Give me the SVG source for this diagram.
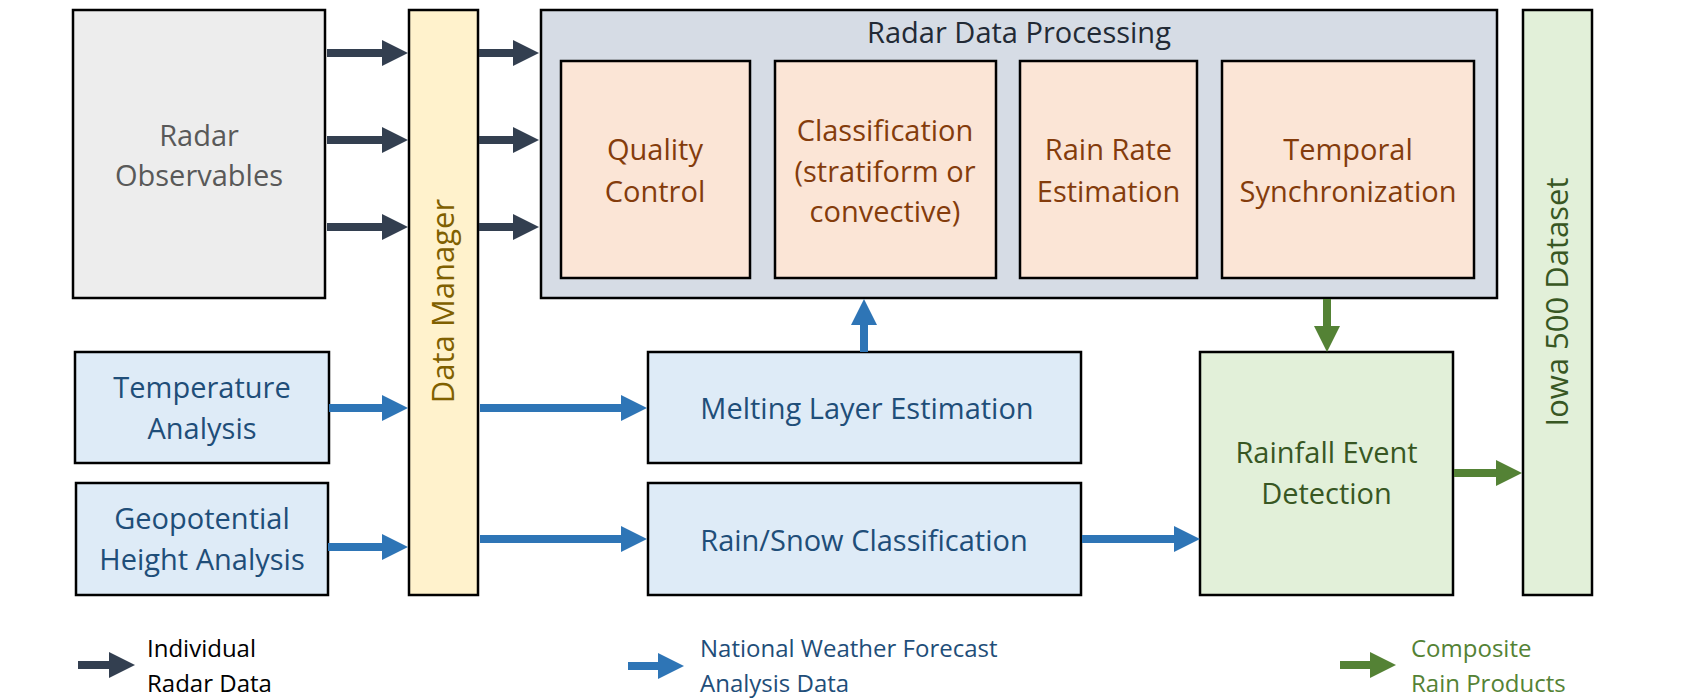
<svg xmlns="http://www.w3.org/2000/svg" width="1700" height="700" viewBox="0 0 1700 700">
<defs>
<style>
text{font-family:"Open Sans","Noto Sans","Liberation Sans",sans-serif;}
.box{stroke:#000;stroke-width:2.5;}
.t{font-size:29px;text-anchor:middle;}
.v{font-size:31px;text-anchor:middle;}
.lg{font-size:24px;}
.dk{stroke:#333F50;stroke-width:8;fill:none;}
.bl{stroke:#2E75B6;stroke-width:8;fill:none;}
.gr{stroke:#548235;stroke-width:8;fill:none;}
</style>
<marker id="hd" markerUnits="userSpaceOnUse" markerWidth="26" markerHeight="26" viewBox="0 0 26 26" refX="1" refY="13" orient="auto"><path d="M0,0 L26,13 L0,26 z" fill="#333F50"/></marker>
<marker id="hb" markerUnits="userSpaceOnUse" markerWidth="26" markerHeight="26" viewBox="0 0 26 26" refX="1" refY="13" orient="auto"><path d="M0,0 L26,13 L0,26 z" fill="#2E75B6"/></marker>
<marker id="hg" markerUnits="userSpaceOnUse" markerWidth="26" markerHeight="26" viewBox="0 0 26 26" refX="1" refY="13" orient="auto"><path d="M0,0 L26,13 L0,26 z" fill="#548235"/></marker>
</defs>
<rect width="1700" height="700" fill="#fff"/>

<g id="radar-observables">
<rect class="box" x="73" y="10" width="252" height="288" fill="#EDEDED"/>
<text class="t" x="199" y="146" fill="#595959">Radar</text>
<text class="t" x="199" y="186" fill="#595959">Observables</text>
</g>

<g id="data-manager">
<rect class="box" x="409" y="10" width="69" height="585" fill="#FFF2CC"/>
<text class="v" transform="translate(454,301) rotate(-90)" fill="#7F6000">Data Manager</text>
</g>

<g id="radar-data-processing">
<rect class="box" x="541" y="10" width="956" height="288" fill="#D6DCE5"/>
<text class="t" x="1019" y="43" fill="#222A35">Radar Data Processing</text>
</g>

<g id="quality-control">
<rect class="box" x="561" y="61" width="189" height="217" fill="#FBE5D6"/>
<text class="t" x="655" y="160" fill="#843C0C">Quality</text>
<text class="t" x="655" y="201.5" fill="#843C0C">Control</text>
</g>

<g id="classification">
<rect class="box" x="775" y="61" width="221" height="217" fill="#FBE5D6"/>
<text class="t" x="885" y="141" fill="#843C0C">Classification</text>
<text class="t" x="885" y="181.5" fill="#843C0C">(stratiform or</text>
<text class="t" x="885" y="221.5" fill="#843C0C">convective)</text>
</g>

<g id="rain-rate-estimation">
<rect class="box" x="1020" y="61" width="177" height="217" fill="#FBE5D6"/>
<text class="t" x="1108.5" y="160" fill="#843C0C">Rain Rate</text>
<text class="t" x="1108.5" y="201.5" fill="#843C0C">Estimation</text>
</g>

<g id="temporal-synchronization">
<rect class="box" x="1222" y="61" width="252" height="217" fill="#FBE5D6"/>
<text class="t" x="1348" y="160" fill="#843C0C">Temporal</text>
<text class="t" x="1348" y="201.5" fill="#843C0C">Synchronization</text>
</g>

<g id="iowa-500-dataset">
<rect class="box" x="1523" y="10" width="69" height="585" fill="#E2F0D9"/>
<text class="v" transform="translate(1568,302) rotate(-90)" fill="#385723">Iowa 500 Dataset</text>
</g>

<g id="temperature-analysis">
<rect class="box" x="75" y="352" width="254" height="111" fill="#DEEBF7"/>
<text class="t" x="202" y="398" fill="#1F4E79">Temperature</text>
<text class="t" x="202" y="439" fill="#1F4E79">Analysis</text>
</g>

<g id="geopotential-height-analysis">
<rect class="box" x="76" y="483" width="252" height="112" fill="#DEEBF7"/>
<text class="t" x="202" y="529" fill="#1F4E79">Geopotential</text>
<text class="t" x="202" y="570" fill="#1F4E79">Height Analysis</text>
</g>

<g id="melting-layer-estimation">
<rect class="box" x="648" y="352" width="433" height="111" fill="#DEEBF7"/>
<text class="t" x="867" y="419" fill="#1F4E79">Melting Layer Estimation</text>
</g>

<g id="rain-snow-classification">
<rect class="box" x="648" y="483" width="433" height="112" fill="#DEEBF7"/>
<text class="t" x="864" y="550.5" fill="#1F4E79">Rain/Snow Classification</text>
</g>

<g id="rainfall-event-detection">
<rect class="box" x="1200" y="352" width="253" height="243" fill="#E2F0D9"/>
<text class="t" x="1326.5" y="463" fill="#385723">Rainfall Event</text>
<text class="t" x="1326.5" y="504" fill="#385723">Detection</text>
</g>

<g id="connectors">
<line class="dk" x1="327" y1="53" x2="383" y2="53" marker-end="url(#hd)"/>
<line class="dk" x1="327" y1="140" x2="383" y2="140" marker-end="url(#hd)"/>
<line class="dk" x1="327" y1="227" x2="383" y2="227" marker-end="url(#hd)"/>
<line class="dk" x1="479" y1="53" x2="514" y2="53" marker-end="url(#hd)"/>
<line class="dk" x1="479" y1="140" x2="514" y2="140" marker-end="url(#hd)"/>
<line class="dk" x1="479" y1="227" x2="514" y2="227" marker-end="url(#hd)"/>
<line class="bl" x1="329" y1="408" x2="383" y2="408" marker-end="url(#hb)"/>
<line class="bl" x1="328" y1="547" x2="383" y2="547" marker-end="url(#hb)"/>
<line class="bl" x1="480" y1="408" x2="622" y2="408" marker-end="url(#hb)"/>
<line class="bl" x1="480" y1="539" x2="622" y2="539" marker-end="url(#hb)"/>
<line class="bl" x1="864" y1="352" x2="864" y2="324" marker-end="url(#hb)"/>
<line class="bl" x1="1082" y1="539" x2="1175" y2="539" marker-end="url(#hb)"/>
<line class="gr" x1="1327" y1="299" x2="1327" y2="327" marker-end="url(#hg)"/>
<line class="gr" x1="1454" y1="473" x2="1497" y2="473" marker-end="url(#hg)"/>
</g>

<g id="legend">
<line class="dk" x1="78" y1="665" x2="110" y2="665" marker-end="url(#hd)"/>
<text class="lg" x="147" y="657" fill="#000">Individual</text>
<text class="lg" x="147" y="691.5" fill="#000">Radar Data</text>
<line class="bl" x1="628" y1="666" x2="659" y2="666" marker-end="url(#hb)"/>
<text class="lg" x="700" y="657" fill="#1F4E79">National Weather Forecast</text>
<text class="lg" x="700" y="691.5" fill="#1F4E79">Analysis Data</text>
<line class="gr" x1="1340" y1="665" x2="1371" y2="665" marker-end="url(#hg)"/>
<text class="lg" x="1411" y="657" fill="#548235">Composite</text>
<text class="lg" x="1411" y="691.5" fill="#548235">Rain Products</text>
</g>
</svg>
